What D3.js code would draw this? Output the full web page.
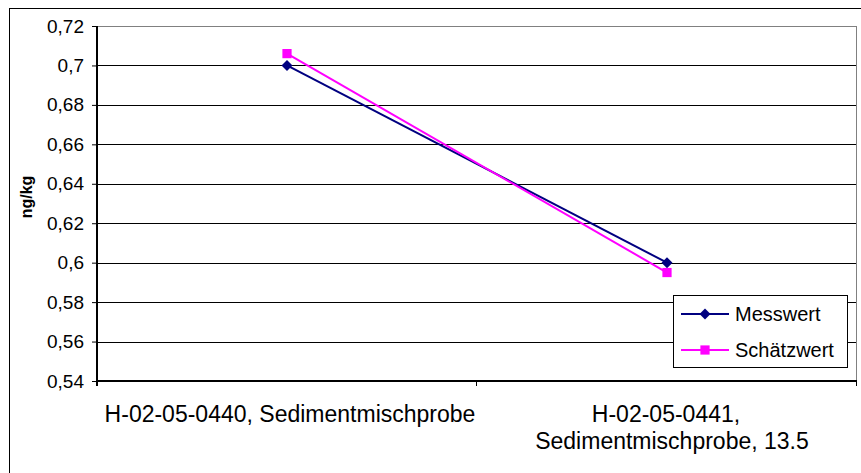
<!DOCTYPE html>
<html>
<head>
<meta charset="utf-8">
<script src="https://cdn.jsdelivr.net/npm/d3@7"></script>
<style>
  body { margin: 0; background: #fff; }
  svg { display: block; font-family: "Liberation Sans", Arial, sans-serif; }
</style>
</head>
<body>
<script>
// chart data
var categories = ["H-02-05-0440, Sedimentmischprobe", "H-02-05-0441, Sedimentmischprobe, 13.5"];
var catLines = [["H-02-05-0440, Sedimentmischprobe"], ["H-02-05-0441,", "Sedimentmischprobe, 13.5"]];
var messwert = [0.7, 0.6];
var schaetzwert = [0.706, 0.595];
var yTicks = [0.54, 0.56, 0.58, 0.6, 0.62, 0.64, 0.66, 0.68, 0.7, 0.72];
var seriesNames = ["Messwert", "Schätzwert"];

var W = 861, H = 473;
var margin = {top: 26, right: 4, bottom: 92, left: 97};
var width = W - margin.left - margin.right,
    height = H - margin.top - margin.bottom;

var svg = d3.select("body").append("svg")
    .attr("width", W)
    .attr("height", H);

// outer chart border
svg.append("rect")
    .attr("x", 9.5).attr("y", 8.5)
    .attr("width", 870).attr("height", 480)
    .attr("fill", "none").attr("stroke", "#000").attr("stroke-width", 1);

var g = svg.append("g")
    .attr("transform", "translate(" + margin.left + "," + margin.top + ")");

var x = d3.scaleBand().domain(categories).range([0, width]);
var y = d3.scaleLinear().domain([0.54, 0.72]).range([height, 0]);

// gridlines
g.selectAll(".grid").data(yTicks).enter().append("line")
    .attr("x1", 0).attr("x2", width)
    .attr("y1", function(d) { return Math.round(y(d)) + 0.5; })
    .attr("y2", function(d) { return Math.round(y(d)) + 0.5; })
    .attr("stroke", function(d, i) { return i == yTicks.length - 1 ? "#808080" : "#000"; })
    .attr("stroke-width", 1);

// plot area right border
g.append("line")
    .attr("x1", width - 0.5).attr("x2", width - 0.5)
    .attr("y1", 0).attr("y2", height)
    .attr("stroke", "#808080");

// y axis
var fmt = function(d) { return d3.format("")(+d.toFixed(2)).replace(".", ","); };
var yAxis = d3.axisLeft(y).tickValues(yTicks).tickSize(5).tickPadding(8).tickFormat(fmt);
var ya = g.append("g").call(yAxis);
ya.select(".domain").attr("stroke", "#000").attr("stroke-width", 2).attr("d", "M0," + (height + 5) + "V0");
ya.selectAll(".tick line").attr("stroke", "#000");
ya.selectAll(".tick text").attr("font-size", 19).attr("fill", "#000")
    .attr("font-family", "Liberation Sans, Arial, sans-serif");

// x axis: ticks at band boundaries
var xa = g.append("g").attr("transform", "translate(0," + height + ")");
xa.append("line").attr("x1", 0).attr("x2", width).attr("y1", 0).attr("y2", 0)
    .attr("stroke", "#000").attr("stroke-width", 2);
var bounds = categories.map(function(c) { return x(c); }).concat([width]);
xa.selectAll(".xtick").data(bounds).enter().append("line")
    .attr("x1", function(d) { return Math.round(d) - 0.5; })
    .attr("x2", function(d) { return Math.round(d) - 0.5; })
    .attr("y1", 0).attr("y2", 5)
    .attr("stroke", "#000");

var lineOffsets = [[3], [-1, 5]];
categories.forEach(function(c, i) {
  catLines[i].forEach(function(t, j) {
    xa.append("text")
      .attr("x", x(c) + x.bandwidth() / 2 + lineOffsets[i][j])
      .attr("y", 41 + j * 27)
      .attr("text-anchor", "middle")
      .attr("font-size", 23)
      .attr("fill", "#000")
      .text(t);
  });
});

// y label
svg.append("text")
    .attr("transform", "translate(32,197) rotate(-90)")
    .attr("text-anchor", "middle")
    .attr("font-size", 16)
    .attr("font-weight", "bold")
    .text("ng/kg");

// series
var cx = function(d, i) { return x(categories[i]) + x.bandwidth() / 2; };
var series = [
  {name: seriesNames[0], values: messwert, color: "#000080", shape: d3.symbolSquare, size: 60, rot: 45},
  {name: seriesNames[1], values: schaetzwert, color: "#FF00FF", shape: d3.symbolSquare, size: 85, rot: 0}
];

var line = d3.line().x(cx).y(function(d) { return y(d); });

series.forEach(function(s) {
  g.append("path")
    .datum(s.values)
    .attr("d", line)
    .attr("fill", "none")
    .attr("stroke", s.color)
    .attr("stroke-width", 2);
  g.selectAll(null).data(s.values).enter().append("path")
    .attr("d", d3.symbol().type(s.shape).size(s.size))
    .attr("transform", function(d, i) { return "translate(" + cx(d, i) + "," + y(d) + ") rotate(" + s.rot + ")"; })
    .attr("fill", s.color);
});

// legend
var lg = svg.append("g").attr("transform", "translate(673,295)");
lg.append("rect")
    .attr("x", 0.5).attr("y", 0.5).attr("width", 174).attr("height", 72)
    .attr("fill", "#fff").attr("stroke", "#000");
series.forEach(function(s, i) {
  var ly = 19 + i * 36;
  lg.append("line").attr("x1", 8).attr("x2", 56).attr("y1", ly).attr("y2", ly)
    .attr("stroke", s.color).attr("stroke-width", 2);
  lg.append("path")
    .attr("d", d3.symbol().type(s.shape).size(s.size))
    .attr("transform", "translate(32," + ly + ") rotate(" + s.rot + ")")
    .attr("fill", s.color);
  lg.append("text")
    .attr("x", 62).attr("y", ly + 7)
    .attr("font-size", 20)
    .text(s.name);
});
</script>
</body>
</html>
